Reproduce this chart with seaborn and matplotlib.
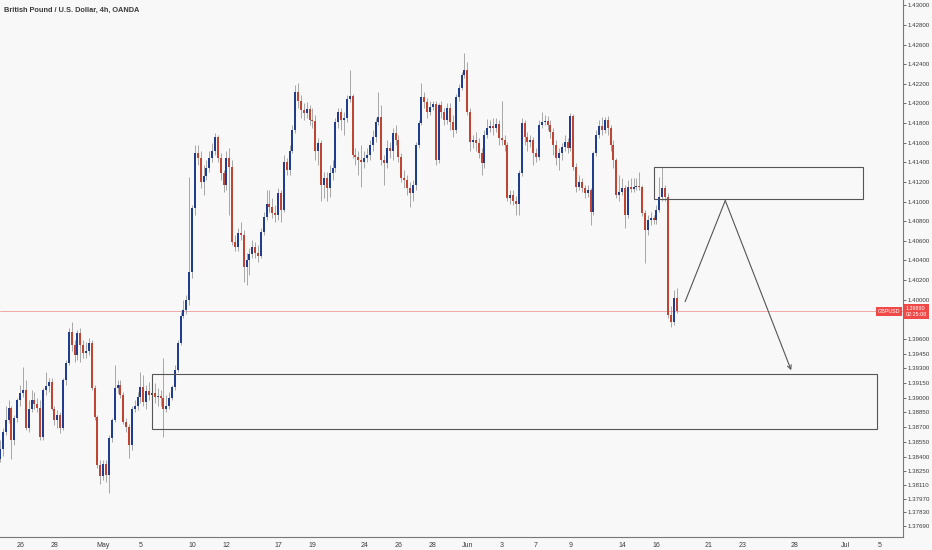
import numpy as np
import pandas as pd
import matplotlib
matplotlib.use("Agg")
import matplotlib.pyplot as plt
import matplotlib.transforms as mtransforms
from matplotlib.patches import Rectangle
import seaborn as sns

# GBP/USD 4h candles, 22 Apr 21:00 -> 17 Jun 05:00 (2021)
first_open = 1.3838
closes = [
    1.3848, 1.3865, 1.3877, 1.3890, 1.3857, 1.3879, 1.3898, 1.3905, 1.3908, 1.3869,
    1.3889, 1.3898, 1.3894, 1.3890, 1.3860, 1.3908, 1.3912, 1.3916, 1.3889, 1.3877,
    1.3882, 1.3869, 1.3918, 1.3935, 1.3967, 1.3954, 1.3944, 1.3966, 1.3954, 1.3946,
    1.3948, 1.3956, 1.3910, 1.3880, 1.3831, 1.3820, 1.3832, 1.3821, 1.3859, 1.3877,
    1.3910, 1.3913, 1.3903, 1.3875, 1.3870, 1.3852, 1.3889, 1.3892, 1.3901, 1.3911,
    1.3896, 1.3907, 1.3903, 1.3905, 1.3901, 1.3902, 1.3900, 1.3889, 1.3892, 1.3900,
    1.3911, 1.3928, 1.3956, 1.3983, 1.3989, 1.4000, 1.4028, 1.4093, 1.4149, 1.4144,
    1.4120, 1.4126, 1.4134, 1.4144, 1.4152, 1.4166, 1.4144, 1.4129, 1.4117, 1.4144,
    1.4135, 1.4059, 1.4054, 1.4068, 1.4066, 1.4033, 1.4040, 1.4047, 1.4054, 1.4048,
    1.4045, 1.4069, 1.4084, 1.4098, 1.4094, 1.4088, 1.4086, 1.4109, 1.4091, 1.4140,
    1.4132, 1.4152, 1.4173, 1.4212, 1.4203, 1.4193, 1.4190, 1.4194, 1.4183, 1.4182,
    1.4152, 1.4160, 1.4117, 1.4124, 1.4114, 1.4129, 1.4134, 1.4181, 1.4191, 1.4183,
    1.4185, 1.4205, 1.4208, 1.4147, 1.4145, 1.4142, 1.4140, 1.4144, 1.4147, 1.4158,
    1.4166, 1.4181, 1.4186, 1.4142, 1.4139, 1.4155, 1.4152, 1.4170, 1.4163, 1.4145,
    1.4124, 1.4122, 1.4114, 1.4109, 1.4117, 1.4158, 1.4180, 1.4207, 1.4201, 1.4191,
    1.4196, 1.4199, 1.4142, 1.4198, 1.4191, 1.4183, 1.4195, 1.4181, 1.4173, 1.4207,
    1.4216, 1.4229, 1.4234, 1.4191, 1.4161, 1.4163, 1.4160, 1.4150, 1.4139, 1.4168,
    1.4175, 1.4177, 1.4175, 1.4179, 1.4165, 1.4163, 1.4158, 1.4104, 1.4107, 1.4101,
    1.4098, 1.4129, 1.4180, 1.4166, 1.4161, 1.4163, 1.4149, 1.4145, 1.4178, 1.4181,
    1.4182, 1.4178, 1.4171, 1.4158, 1.4144, 1.4149, 1.4156, 1.4161, 1.4155, 1.4187,
    1.4135, 1.4115, 1.4120, 1.4114, 1.4109, 1.4112, 1.4089, 1.4149, 1.4168, 1.4177,
    1.4173, 1.4183, 1.4175, 1.4158, 1.4142, 1.4107, 1.4110, 1.4114, 1.4086, 1.4115,
    1.4113, 1.4115, 1.4116, 1.4115, 1.4088, 1.4071, 1.4081, 1.4083, 1.4081, 1.4091,
    1.4105, 1.4114, 1.4105, 1.3984, 1.3977, 1.4002, 1.3988]
highs = [
    1.3857, 1.3869, 1.3892, 1.3898, 1.3892, 1.3882, 1.3900, 1.3913, 1.3931, 1.3918,
    1.3898, 1.3908, 1.3906, 1.3900, 1.3898, 1.3910, 1.3926, 1.3920, 1.3920, 1.3892,
    1.3887, 1.3885, 1.3920, 1.3938, 1.3971, 1.3977, 1.3959, 1.3969, 1.3971, 1.3959,
    1.3957, 1.3961, 1.3959, 1.3913, 1.3882, 1.3836, 1.3836, 1.3836, 1.3862, 1.3879,
    1.3933, 1.3918, 1.3918, 1.3906, 1.3879, 1.3873, 1.3892, 1.3898, 1.3906, 1.3926,
    1.3923, 1.3913, 1.3916, 1.3913, 1.3915, 1.3910, 1.3908, 1.3941, 1.3903, 1.3906,
    1.3913, 1.3933, 1.3959, 1.3987, 1.4000, 1.4005, 1.4125, 1.4096, 1.4158, 1.4158,
    1.4152, 1.4137, 1.4142, 1.4152, 1.4160, 1.4170, 1.4168, 1.4150, 1.4132, 1.4152,
    1.4155, 1.4142, 1.4066, 1.4073, 1.4079, 1.4071, 1.4048, 1.4053, 1.4061, 1.4059,
    1.4056, 1.4073, 1.4089, 1.4112, 1.4112, 1.4104, 1.4096, 1.4114, 1.4112, 1.4147,
    1.4144, 1.4158, 1.4178, 1.4219, 1.4221, 1.4209, 1.4200, 1.4201, 1.4198, 1.4195,
    1.4188, 1.4165, 1.4163, 1.4130, 1.4130, 1.4137, 1.4142, 1.4185, 1.4195, 1.4195,
    1.4191, 1.4209, 1.4234, 1.4210, 1.4155, 1.4152, 1.4158, 1.4152, 1.4155, 1.4163,
    1.4173, 1.4185, 1.4212, 1.4198, 1.4147, 1.4163, 1.4161, 1.4175, 1.4178, 1.4168,
    1.4150, 1.4132, 1.4127, 1.4120, 1.4122, 1.4161, 1.4183, 1.4221, 1.4212, 1.4206,
    1.4203, 1.4203, 1.4203, 1.4200, 1.4203, 1.4195, 1.4200, 1.4200, 1.4188, 1.4210,
    1.4220, 1.4232, 1.4251, 1.4242, 1.4195, 1.4168, 1.4171, 1.4165, 1.4155, 1.4173,
    1.4184, 1.4183, 1.4185, 1.4185, 1.4183, 1.4203, 1.4168, 1.4161, 1.4112, 1.4112,
    1.4106, 1.4132, 1.4185, 1.4183, 1.4171, 1.4168, 1.4166, 1.4155, 1.4183, 1.4191,
    1.4188, 1.4187, 1.4183, 1.4175, 1.4163, 1.4155, 1.4160, 1.4168, 1.4165, 1.4190,
    1.4189, 1.4139, 1.4127, 1.4124, 1.4117, 1.4117, 1.4114, 1.4152, 1.4173, 1.4183,
    1.4186, 1.4186, 1.4187, 1.4178, 1.4163, 1.4144, 1.4127, 1.4124, 1.4117, 1.4122,
    1.4124, 1.4124, 1.4124, 1.4130, 1.4117, 1.4091, 1.4086, 1.4089, 1.4086, 1.4096,
    1.4125, 1.4135, 1.4117, 1.4109, 1.3994, 1.4010, 1.4012]
lows = [
    1.3834, 1.3841, 1.3862, 1.3874, 1.3838, 1.3852, 1.3875, 1.3892, 1.3901, 1.3867,
    1.3865, 1.3885, 1.3889, 1.3885, 1.3857, 1.3857, 1.3903, 1.3906, 1.3887, 1.3872,
    1.3869, 1.3864, 1.3867, 1.3913, 1.3933, 1.3948, 1.3936, 1.3938, 1.3936, 1.3940,
    1.3940, 1.3944, 1.3908, 1.3877, 1.3828, 1.3812, 1.3816, 1.3814, 1.3803, 1.3855,
    1.3875, 1.3905, 1.3900, 1.3873, 1.3865, 1.3839, 1.3847, 1.3885, 1.3887, 1.3895,
    1.3892, 1.3889, 1.3898, 1.3898, 1.3895, 1.3892, 1.3892, 1.3860, 1.3885, 1.3889,
    1.3898, 1.3908, 1.3926, 1.3954, 1.3981, 1.3985, 1.3995, 1.4022, 1.4086, 1.4137,
    1.4114, 1.4107, 1.4122, 1.4130, 1.4140, 1.4147, 1.4140, 1.4122, 1.4110, 1.4112,
    1.4086, 1.4056, 1.4050, 1.4050, 1.4061, 1.4018, 1.4015, 1.4025, 1.4042, 1.4042,
    1.4038, 1.4042, 1.4066, 1.4081, 1.4089, 1.4083, 1.4079, 1.4081, 1.4079, 1.4089,
    1.4127, 1.4127, 1.4149, 1.4170, 1.4195, 1.4185, 1.4183, 1.4185, 1.4178, 1.4175,
    1.4142, 1.4137, 1.4101, 1.4104, 1.4101, 1.4105, 1.4122, 1.4130, 1.4175, 1.4173,
    1.4168, 1.4181, 1.4201, 1.4144, 1.4137, 1.4127, 1.4115, 1.4134, 1.4140, 1.4142,
    1.4152, 1.4161, 1.4178, 1.4137, 1.4117, 1.4134, 1.4144, 1.4142, 1.4158, 1.4140,
    1.4120, 1.4114, 1.4107, 1.4094, 1.4101, 1.4112, 1.4155, 1.4178, 1.4195, 1.4185,
    1.4188, 1.4193, 1.4137, 1.4139, 1.4185, 1.4178, 1.4179, 1.4173, 1.4166, 1.4170,
    1.4203, 1.4214, 1.4226, 1.4188, 1.4152, 1.4155, 1.4152, 1.4144, 1.4127, 1.4134,
    1.4165, 1.4171, 1.4168, 1.4171, 1.4158, 1.4158, 1.4152, 1.4101, 1.4098, 1.4096,
    1.4086, 1.4086, 1.4126, 1.4158, 1.4152, 1.4156, 1.4137, 1.4140, 1.4142, 1.4175,
    1.4178, 1.4173, 1.4165, 1.4147, 1.4137, 1.4132, 1.4142, 1.4152, 1.4150, 1.4152,
    1.4132, 1.4110, 1.4112, 1.4110, 1.4104, 1.4105, 1.4076, 1.4086, 1.4146, 1.4165,
    1.4168, 1.4170, 1.4168, 1.4152, 1.4134, 1.4104, 1.4101, 1.4107, 1.4073, 1.4083,
    1.4110, 1.4110, 1.4112, 1.4112, 1.4085, 1.4037, 1.4066, 1.4076, 1.4077, 1.4077,
    1.4089, 1.4101, 1.4101, 1.3981, 1.3972, 1.3974, 1.3986]

last_price = 1.39880
countdown = "02:25:08"

# drawings (bar index, price)
zone_upper_x = [228, 301]
zone_upper_p = [1.4103, 1.4135]
zone_lower_x = [53, 306]
zone_lower_p = [1.3868, 1.3924]
path_x = [239, 253, 276]
path_p = [1.3998, 1.4101, 1.3928]

y_ticks = [1.43000, 1.42800, 1.42600, 1.42400, 1.42200, 1.42000, 1.41800, 1.41600,
           1.41400, 1.41200, 1.41000, 1.40800, 1.40600, 1.40400, 1.40200, 1.40000,
           1.39600, 1.39450, 1.39300, 1.39150, 1.39000, 1.38850, 1.38700, 1.38550,
           1.38400, 1.38250, 1.38110, 1.37970, 1.37830, 1.37690]
tick_dates = ['2021-04-26', '2021-04-28', '2021-05-01', '2021-05-05', '2021-05-10',
              '2021-05-12', '2021-05-17', '2021-05-19', '2021-05-24', '2021-05-26',
              '2021-05-28', '2021-06-01', '2021-06-03', '2021-06-07', '2021-06-09',
              '2021-06-14', '2021-06-16', '2021-06-21', '2021-06-23', '2021-06-28',
              '2021-07-01', '2021-07-05']
tick_labels = ['26', '28', 'May', '5', '10', '12', '17', '19', '24', '26', '28',
               'Jun', '3', '7', '9', '14', '16', '21', '23', '28', 'Jul', '5']

BLUE = '#1f3c8e'
RED = '#bf4431'
BG = '#f8f8f8'

sns.set_theme(style="white")
plt.rcParams['font.family'] = ['Liberation Sans', 'DejaVu Sans']

# 4h bar clock: each weekday session starts 21:00 the day before
sessions = pd.bdate_range('2021-04-23', '2021-07-09')
bar_times = pd.DatetimeIndex([d + pd.Timedelta(hours=hh) for d in sessions
                              for hh in (-3, 1, 5, 9, 13, 17)])
tick_pos = np.searchsorted(bar_times.values, pd.to_datetime(tick_dates).values)

c = np.array(closes)
o = np.array([first_open] + closes[:-1])
h = np.maximum(np.array(highs), np.maximum(o, c))
l = np.minimum(np.array(lows), np.minimum(o, c))
x = np.arange(len(c))
colors = np.where(c >= o, BLUE, RED)

fig = plt.figure(figsize=(9.32, 5.5), dpi=100)
fig.patch.set_facecolor(BG)
ax = fig.add_axes([0, 13 / 550, 903 / 932, 537 / 550])
ax.set_facecolor(BG)

ax.axhline(last_price, color='#f29a9a', lw=0.6, zorder=1)
ax.vlines(x, l, h, color='#9a9a9a', lw=0.6, zorder=2)
ax.bar(x, np.maximum(np.abs(c - o), 0.00004), bottom=np.minimum(o, c), width=0.72,
       color=colors, linewidth=0, zorder=3)

for zx, zp in [(zone_upper_x, zone_upper_p), (zone_lower_x, zone_lower_p)]:
    ax.add_patch(Rectangle((zx[0], zp[0]), zx[1] - zx[0], zp[1] - zp[0],
                           fill=False, ec='#555555', lw=0.8, zorder=4))

sns.lineplot(x=path_x[:2], y=path_p[:2], ax=ax, color='#555555', lw=0.8, zorder=4)
ax.annotate('', xy=(path_x[2], path_p[2]), xytext=(path_x[1], path_p[1]),
            arrowprops=dict(arrowstyle='->', color='#555555', lw=0.8,
                            shrinkA=0, shrinkB=0, mutation_scale=7), zorder=4)

ax.set_xlim(0, 315)
ax.set_ylim(1.3758, 1.43055)
ax.set_xticks(tick_pos)
ax.set_xticklabels(tick_labels)
ax.yaxis.tick_right()
ax.set_yticks(y_ticks)
ax.set_yticklabels([f'{v:.5f}' for v in y_ticks])
ax.tick_params(axis='both', colors='#555555', labelcolor='#3c3c3c',
               length=2, width=0.6, pad=1.5)
ax.tick_params(axis='x', labelsize=5.0)
ax.tick_params(axis='y', labelsize=4.4)
ax.set_xlabel('')
ax.set_ylabel('')
for side in ['top', 'left']:
    ax.spines[side].set_visible(False)
for side in ['right', 'bottom']:
    ax.spines[side].set_color('#777777')
    ax.spines[side].set_linewidth(0.8)

ax.text(0.004, 0.988, 'British Pound / U.S. Dollar, 4h, OANDA', transform=ax.transAxes,
        fontsize=5.3, fontweight='bold', color='#3a3a3a', ha='left', va='top')

trans = mtransforms.blended_transform_factory(ax.transAxes, ax.transData)
ax.text(1.003, last_price, f'{last_price:.5f}\n{countdown}', transform=trans,
        ha='left', va='center', fontsize=3.9, color='white', linespacing=1.25,
        bbox=dict(boxstyle='square,pad=0.35', fc='#f04a48', ec='none'),
        clip_on=False, zorder=6)
ax.text(0.997, last_price, 'GBPUSD', transform=trans, ha='right', va='center',
        fontsize=3.9, color='white',
        bbox=dict(boxstyle='square,pad=0.3', fc='#f04a48', ec='none'), zorder=6)

fig.savefig('out.png', dpi=100, facecolor=fig.get_facecolor())
